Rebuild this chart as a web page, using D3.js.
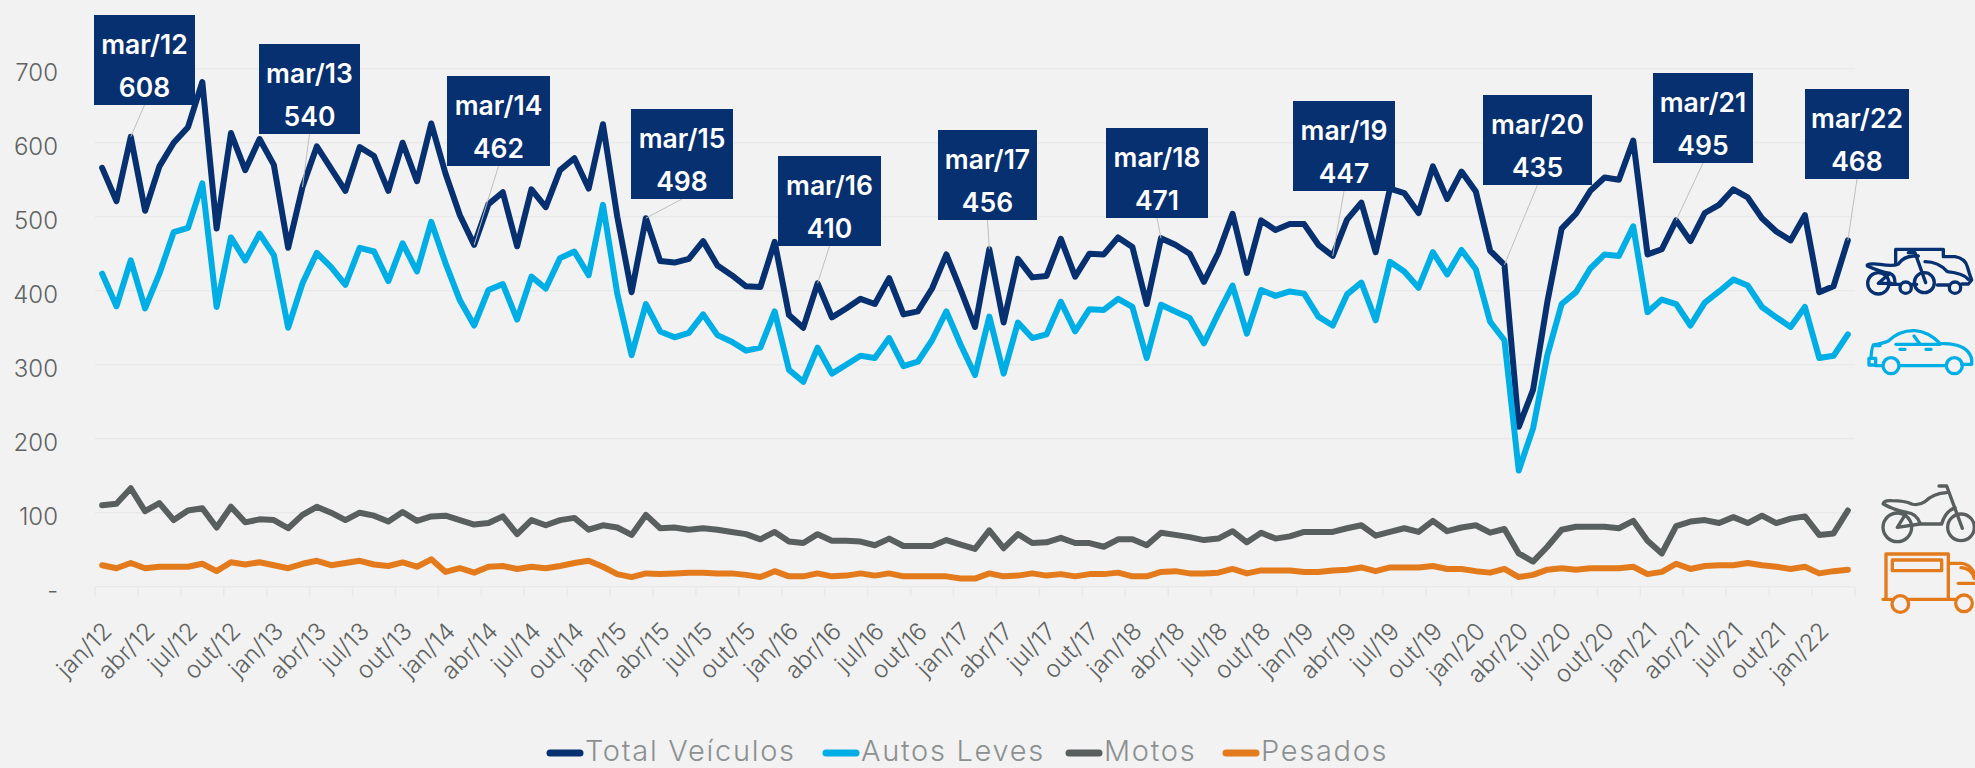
<!DOCTYPE html>
<html><head><meta charset="utf-8">
<script src="https://cdn.jsdelivr.net/npm/d3@7/dist/d3.min.js"></script>
<style>html,body{margin:0;padding:0;background:#f2f2f2;overflow:hidden}svg{display:block;font-family:Inter,Lato,sans-serif}</style>
</head><body><svg id="c" width="1975" height="768"></svg>
<script>
const monthNames=["jan","fev","mar","abr","mai","jun","jul","ago","set","out","nov","dez"];
const categories=d3.range(123).map(i=>monthNames[i%12]+"/"+(12+Math.floor(i/12)));
const totalVeiculos=[566,521,608,508,568,600,621,682,484,613,563,605,570,458,540,595,565,535,594,582,535,600,548,626,558,502,462,517,533,460,537,513,563,579,538,625,500,398,498,
440,438,443,467,434,421,406,405,466,367,350,410,364,376,389,382,417,368,372,403,449,401,351,456,357,443,418,420,470,419,450,449,472,459,382,471,462,450,412,451,504,424,495,482,490,490,462,
447,496,519,452,538,532,505,568,524,561,534,454,435,216,266,385,484,504,535,553,550,603,449,456,495,467,505,516,537,526,498,480,468,502,398,406,468];
const autosLeves=[423,379,441,376,423,479,485,545,378,472,441,477,448,350,410,451,432,408,458,453,413,464,426,493,437,387,353,401,409,361,419,403,444,453,421,516,396,313,382,
345,337,343,368,340,331,319,323,372,293,277,323,288,300,312,309,336,298,304,333,372,327,286,365,288,357,336,341,385,345,375,374,389,378,309,381,372,363,329,369,407,342,401,393,399,396,365,
353,395,411,360,439,426,404,452,422,455,429,358,333,157,214,313,382,398,430,449,447,487,371,388,382,353,384,399,415,407,378,364,351,378,309,312,341];
const motos=[110,112,133,102,113,90,103,106,80,108,87,91,90,79,97,108,100,90,100,96,88,101,89,95,96,90,84,86,95,71,90,83,90,93,77,83,80,70,97,79,80,77,
79,77,74,71,64,74,61,59,71,62,62,61,56,65,55,55,55,63,57,51,76,52,71,59,60,66,59,59,54,64,64,56,73,70,67,63,65,75,60,73,65,68,74,74,74,79,83,69,74,
79,74,89,75,80,83,73,78,45,34,54,77,81,81,81,79,89,62,45,82,88,90,86,94,86,96,86,92,95,70,72,103];
const pesados=[29,25,32,25,27,27,27,31,21,33,30,33,29,25,31,35,29,32,35,30,28,33,27,37,20,25,19,27,28,24,27,25,28,32,35,27,17,13,18,17,18,19,
19,18,18,16,13,21,14,14,18,14,15,18,15,18,14,14,14,14,11,11,18,14,15,18,15,17,14,17,17,19,14,14,20,21,18,18,19,24,18,22,22,22,20,20,22,23,26,21,26,
26,26,28,24,24,21,19,24,13,16,23,25,23,25,25,25,27,17,20,31,24,28,29,29,32,29,27,24,27,18,21,23];
const yTicks=[0,100,200,300,400,500,600,700];
const callouts=["mar/12","mar/13","mar/14","mar/15","mar/16","mar/17","mar/18","mar/19","mar/20","mar/21","mar/22"];
const calloutValues=[608,540,462,498,410,456,471,447,435,495,468];
const legendNames=["Total Veículos","Autos Leves","Motos","Pesados"];
// layout only
const boxLeft=[94,259,447,631,778,938,1106,1293,1483,1653,1805];
const boxRight=[195,360,550,733,881,1037,1208,1395,1592,1753,1909];
const boxTop=[15,44,76,109,156,130,128,101,95,73,89];
const colors=["#06306f","#00aee6","#595f5e","#e37b1d"];
const legendX=[547,823,1066,1223];

const svg=d3.select("#c");
const x=d3.scaleBand().domain(categories).range([95,1855]);
const y=d3.scaleLinear().domain([0,700]).range([586.7,68.7]);
const cx=c=>x(c)+x.bandwidth()/2;

svg.append("g").selectAll("line").data(yTicks).join("line")
 .attr("x1",95).attr("x2",1855).attr("y1",d=>y(d)).attr("y2",d=>y(d))
 .attr("stroke","#e9e9e9").attr("stroke-width",1.5);
const tickCats=categories.filter((c,i)=>i%3===0);
svg.append("g").selectAll("line").data(tickCats).join("line")
 .attr("x1",d=>x(d)).attr("x2",d=>x(d)).attr("y1",y(0)).attr("y2",y(0)+10)
 .attr("stroke","#e9e9e9").attr("stroke-width",1.5);
svg.append("line").attr("x1",1855).attr("x2",1855).attr("y1",y(0)).attr("y2",y(0)+10).attr("stroke","#e9e9e9").attr("stroke-width",1.5);

const yAxis=svg.append("g").attr("transform","translate(95,0)")
 .call(d3.axisLeft(y).tickValues(yTicks).tickSize(0).tickPadding(37).tickFormat(d=>d===0?"- ":d));
yAxis.select(".domain").remove();
yAxis.selectAll("text").attr("fill","#5f6362").attr("font-size",24).attr("font-weight",300).attr("font-family","Inter").attr("dy","0.48em");

const xAxis=svg.append("g").attr("transform",`translate(0,${y(0)})`)
 .call(d3.axisBottom(x).tickValues(tickCats).tickSize(0));
xAxis.select(".domain").remove();
xAxis.selectAll("text").attr("fill","#5f6362").attr("font-size",24).attr("font-weight",300).attr("font-family","Inter")
 .attr("text-anchor","end").attr("dy",0).attr("y",0)
 .attr("transform","translate(11,46) rotate(-45)");

const line=d3.line().x((d,i)=>cx(categories[i])).y(d=>y(d)).curve(d3.curveLinear);
[totalVeiculos,autosLeves,motos,pesados].forEach((s,k)=>{
 svg.append("path").datum(s).attr("d",line).attr("fill","none").attr("stroke",colors[k])
  .attr("stroke-width",6).attr("stroke-linejoin","round").attr("stroke-linecap","round");
});

const call=svg.append("g").selectAll("g").data(callouts).join("g");
call.append("line").attr("x1",(d,i)=>(boxLeft[i]+boxRight[i])/2).attr("y1",(d,i)=>boxTop[i]+90)
 .attr("x2",d=>cx(d)).attr("y2",(d,i)=>y(calloutValues[i]))
 .attr("stroke","#bfbfbf").attr("stroke-width",1);
call.append("rect").attr("x",(d,i)=>boxLeft[i]).attr("y",(d,i)=>boxTop[i])
 .attr("width",(d,i)=>boxRight[i]-boxLeft[i]).attr("height",90).attr("fill","#06306f");
call.append("text").attr("x",(d,i)=>(boxLeft[i]+boxRight[i])/2).attr("y",(d,i)=>boxTop[i]+39)
 .attr("text-anchor","middle").attr("fill","#fff").attr("font-size",26.5).attr("font-weight",600).text(d=>d);
call.append("text").attr("x",(d,i)=>(boxLeft[i]+boxRight[i])/2).attr("y",(d,i)=>boxTop[i]+82)
 .attr("text-anchor","middle").attr("fill","#fff").attr("font-size",26.5).attr("font-weight",600).text((d,i)=>calloutValues[i]);

const leg=svg.append("g").selectAll("g").data(legendNames).join("g");
leg.append("line").attr("x1",(d,i)=>legendX[i]+3).attr("x2",(d,i)=>legendX[i]+33).attr("y1",753).attr("y2",753)
 .attr("stroke",(d,i)=>colors[i]).attr("stroke-width",7).attr("stroke-linecap","round");
leg.append("text").attr("x",(d,i)=>legendX[i]+38).attr("y",761).attr("fill","#8c9090").attr("font-size",29).attr("font-weight",300).attr("letter-spacing",1.7).text(d=>d);

// vehicle pictograms (decorative outlines, drawn at the right of the lines)
function icon(tx,ty,color,paths,circles){
 const g=svg.append("g").attr("transform",`translate(${tx},${ty}) scale(${1/3})`)
  .attr("fill","none").attr("stroke",color).attr("stroke-width",10).attr("stroke-linecap","round").attr("stroke-linejoin","round");
 paths.forEach(p=>g.append("path").attr("d",p));
 circles.forEach(c=>g.append("circle").attr("cx",c[0]).attr("cy",c[1]).attr("r",c[2]));
}
icon(1860,240,colors[0],[
 "M107 72V28H250V50H285Q315 55 322 80L328 100L335 120L325 132H305",
 "M195 65Q235 65 262 95Q310 100 325 118",
 "M92 133H120M155 133H170M232 135H265",
 "M22 75Q30 70 60 73Q100 80 115 72Q130 50 160 48H175",
 "M145 38H165L197 128",
 "M22 78Q60 95 90 100L55 130H95M90 100Q105 105 105 130"
],[[55,130,32],[193,128,30],[137,143,17],[285,143,17]]);
icon(1860,325,colors[1],[
 "M40 60Q70 55 85 48Q120 15 165 17Q205 20 240 55Q300 55 322 78Q338 95 335 118H305",
 "M118 122H258M47 122H68",
 "M60 62H40Q35 65 33 100",
 "M27 100H47V120H27Z",
 "M108 58H240","M120 73H135M198 73H213","M162 33L180 58"
],[[93,122,24],[283,122,24]]);
icon(1875,480,colors[2],[
 "M25 70Q28 60 50 62Q90 62 110 72Q130 78 150 65Q175 40 215 38",
 "M192 18H215L262 145",
 "M25 72Q60 92 95 97L67 142L135 132H200Q210 95 240 83",
 "M95 97Q125 100 135 130"
],[[67,142,43],[258,142,40]]);
icon(1875,480,colors[3],[
 "M33 358V222H220V358",
 "M52 240H200V272H52Z",
 "M220 250H260Q295 255 305 300",
 "M258 263Q290 265 298 295",
 "M250 310H300",
 "M24 358H50M100 358H240"
],[[76,372,25],[267,370,25]]);
</script></body></html>
